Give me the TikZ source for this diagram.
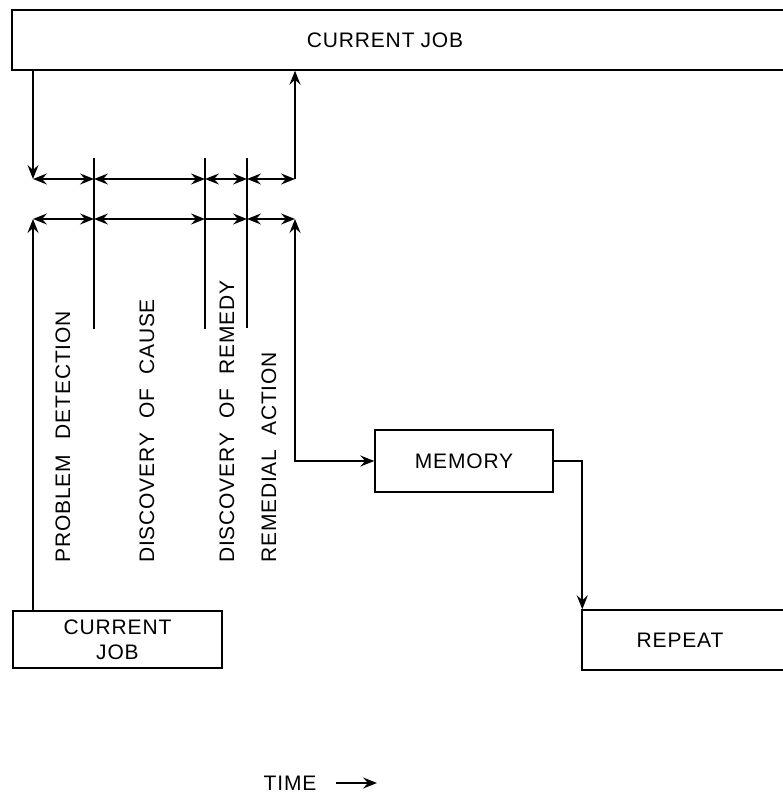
\documentclass[tikz,border=0pt]{standalone}
\usepackage{fontspec}
\setmainfont{Liberation Sans}[LetterSpace=4]
\usetikzlibrary{arrows.meta}
\begin{document}
\begin{tikzpicture}[x=1pt,y=-1pt,
  box/.style={draw, line width=1.4pt, rectangle, inner sep=0pt},
  txt/.style={font=\fontsize{21}{25}\selectfont, inner sep=0pt, align=center},
  lbl/.style={font=\fontsize{21}{25}\selectfont, inner sep=0pt, rotate=90, anchor=west},
  conn/.style={line width=2pt, >={Stealth[length=14pt,width=11pt,inset=5pt]}},
  tick/.style={line width=2pt}]
\useasboundingbox (0,0) rectangle (783,802);
% boxes
\node[box, minimum width=788pt, minimum height=60pt] (top) at (406,40) {};
\node[txt] (toptxt) at (385,40) {CURRENT\hspace{6pt}JOB};
\node[box, minimum width=209pt, minimum height=57pt, txt] (job) at (117.5,639.5) {CURRENT\\JOB};
\node[box, minimum width=178pt, minimum height=62pt] (mem) at (464,461) {};
\node[txt] (memtxt) at (464,461) {MEMORY};
\node[box, minimum width=218pt, minimum height=60pt] (rep) at (691,640) {};
\node[txt] (reptxt) at (680,640) {REPEAT};
% timeline coordinates
\coordinate (a1) at (33,179); \coordinate (a2) at (295,179);
\coordinate (b1) at (33,219); \coordinate (b2) at (295,219);
\coordinate (t1s) at (94,158); \coordinate (t1e) at (94,329);
\coordinate (t2s) at (205,158); \coordinate (t2e) at (205,329);
\coordinate (t3s) at (247,158); \coordinate (t3e) at (247,328);
\coordinate (u1) at (94,179); \coordinate (u2) at (205,179); \coordinate (u3) at (247,179);
\coordinate (l1) at (94,219); \coordinate (l2) at (205,219); \coordinate (l3) at (247,219);
% ticks
\draw[tick] (t1s) -- (t1e);
\draw[tick] (t2s) -- (t2e);
\draw[tick] (t3s) -- (t3e);
% upper timeline
\draw[conn,->] (a1 |- top.south) -- (a1);
\draw[conn,->] (a2) -- (a2 |- top.south);
\draw[conn,<->] (a1) -- (u1);
\draw[conn,<->] (u1) -- (u2);
\draw[conn,<->] (u2) -- (u3);
\draw[conn,<->] (u3) -- (a2);
% lower timeline
\draw[conn,<->] (b1) -- (l1);
\draw[conn,<->] (l1) -- (l2);
\draw[conn,->] (l2) -- (l3);
\draw[conn,<->] (l3) -- (b2);
\draw[conn,->] (b1 |- job.north) -- (b1);
\draw[conn,<->] (b2) -- (b2 |- mem.west) -- (mem.west);
\draw[conn,->] (mem.east) -| ([xshift=1pt]rep.north west);
% labels
\node[lbl] (pd) at (63,563) {PROBLEM\hspace{16pt}DETECTION};
\node[lbl] (dc) at (147,563) {DISCOVERY\hspace{14pt}OF\hspace{14pt}CAUSE};
\node[lbl] (dr) at (227,563) {DISCOVERY\hspace{14pt}OF\hspace{14pt}REMEDY};
\node[lbl] (ra) at (269,563) {REMEDIAL\hspace{14pt}ACTION};
% time
\node[txt] (time) at (290,783) {TIME};
\coordinate (tarr) at (377,783);
\draw[conn,->] ([xshift=19pt]time.east) -- (tarr);
\end{tikzpicture}
\end{document}
